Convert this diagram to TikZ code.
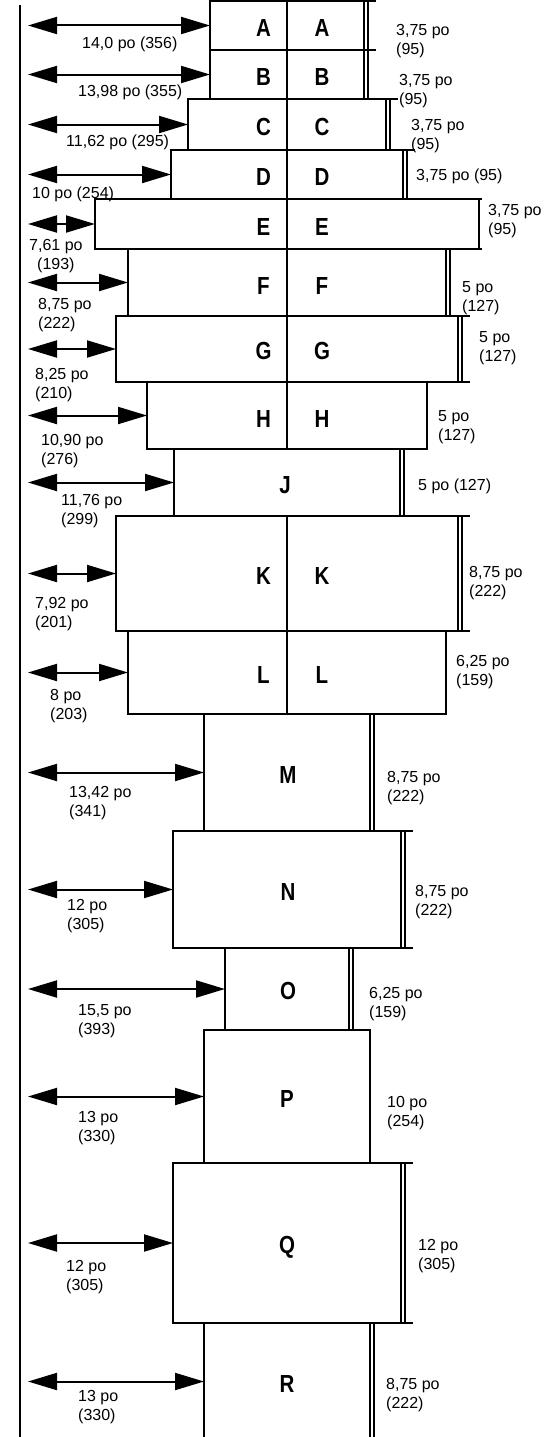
\documentclass[tikz,border=0pt]{standalone}
\usepackage{fontspec}
\setmainfont{Liberation Sans}
\newfontfamily\boxfont[FakeStretch=0.83]{Liberation Sans Bold}
\usetikzlibrary{arrows.meta}
\tikzset{
  BoxStyle/.style = { rectangle, draw, line width = 1.8pt,
                      inner sep = 0pt, outer sep = 0pt },
  SizeStyle/.style = { font = \fontsize{16}{18.5}\selectfont,
                       align = left, inner sep = 0pt, anchor = west },
  ArrowStyle/.style = { {Triangle[length=29pt,width=17pt]}-{Triangle[length=29pt,width=17pt]},
                        line width = 2pt } }
\newcommand{\SizeBar}[1]{%
  \draw[line width=1.2pt] ([xshift=4pt]#1.north east) -- ([xshift=4pt]#1.south east);
  \draw[line width=2.8pt] (#1.north east) -- ([xshift=12pt]#1.north east)
                          (#1.south east) -- ([xshift=12pt]#1.south east);}

\begin{document}
\begin{tikzpicture}[x=1pt,y=-1pt]
  \useasboundingbox (0,0) rectangle (556,1437);
  \tikzstyle{CellStyle}=[font = \boxfont\fontsize{24.7}{24.7}\selectfont,
                         inner sep = 0pt, text height = 17.7pt, text depth = 0pt]
  \draw[line width=1.4pt] (20,5) -- (20,1437);
  \coordinate (rail) at (28,0);

  \node[BoxStyle, minimum width=154pt, minimum height=49pt]  (A) at (287,25.5)  {};
  \node[BoxStyle, minimum width=154pt, minimum height=49pt]  (B) at (287,74.5)  {};
  \node[BoxStyle, minimum width=198pt, minimum height=51pt]  (C) at (287,124.5) {};
  \node[BoxStyle, minimum width=232pt, minimum height=49pt]  (D) at (287,174.5) {};
  \node[BoxStyle, minimum width=384pt, minimum height=50pt]  (E) at (287,224)   {};
  \node[BoxStyle, minimum width=318pt, minimum height=67pt]  (F) at (287,282.5) {};
  \node[BoxStyle, minimum width=342pt, minimum height=66pt]  (G) at (287,349)   {};
  \node[BoxStyle, minimum width=280pt, minimum height=67pt]  (H) at (287,415.5) {};
  \node[BoxStyle, minimum width=226pt, minimum height=67pt]  (J) at (287,482.5) {};
  \node[BoxStyle, minimum width=342pt, minimum height=115pt] (K) at (287,573.5) {};
  \node[BoxStyle, minimum width=318pt, minimum height=83pt]  (L) at (287,672.5) {};
  \node[BoxStyle, minimum width=166pt, minimum height=117pt] (M) at (287,772.5) {};
  \node[BoxStyle, minimum width=228pt, minimum height=117pt] (N) at (287,889.5) {};
  \node[BoxStyle, minimum width=124pt, minimum height=82pt]  (O) at (287,989)   {};
  \node[BoxStyle, minimum width=166pt, minimum height=133pt] (P) at (287,1096.5) {};
  \node[BoxStyle, minimum width=228pt, minimum height=160pt] (Q) at (287,1243)  {};
  \node[BoxStyle, minimum width=166pt, minimum height=117pt] (R) at (287,1381.5) {};

  \draw[line width=1.3pt] (A.north) -- (A.south) (B.north) -- (B.south)
    (C.north) -- (C.south) (D.north) -- (D.south) (E.north) -- (E.south)
    (F.north) -- (F.south) (G.north) -- (G.south) (H.north) -- (H.south)
    (K.north) -- (K.south) (L.north) -- (L.south);

  \node[CellStyle] at (263.5,27.5)  {A};  \node[CellStyle] at (322,27.5)  {A};
  \node[CellStyle] at (263.5,76.5)  {B};  \node[CellStyle] at (322,76.5)  {B};
  \node[CellStyle] at (263.5,126.5) {C};  \node[CellStyle] at (322,126.5) {C};
  \node[CellStyle] at (263.5,176.5) {D};  \node[CellStyle] at (322,176.5) {D};
  \node[CellStyle] at (263.5,227)   {E};  \node[CellStyle] at (322,227)   {E};
  \node[CellStyle] at (263.5,285.5) {F};  \node[CellStyle] at (322,285.5) {F};
  \node[CellStyle] at (263.5,351)   {G};  \node[CellStyle] at (322,351)   {G};
  \node[CellStyle] at (263.5,418.5) {H};  \node[CellStyle] at (322,418.5) {H};
  \node[CellStyle] at (285,484.5) {J};
  \node[CellStyle] at (263.5,576)   {K};  \node[CellStyle] at (322,576)   {K};
  \node[CellStyle] at (263.5,675)   {L};  \node[CellStyle] at (322,675)   {L};
  \node[CellStyle] at (288,775)   {M};
  \node[CellStyle] at (288,892)   {N};
  \node[CellStyle] at (288,991)   {O};
  \node[CellStyle] at (287,1099)  {P};
  \node[CellStyle] at (287,1245)  {Q};
  \node[CellStyle] at (287,1384)  {R};

  \SizeBar{A} \SizeBar{B} \SizeBar{C} \SizeBar{D} \SizeBar{F} \SizeBar{G}
  \SizeBar{J} \SizeBar{K} \SizeBar{M} \SizeBar{N} \SizeBar{O} \SizeBar{Q}
  \SizeBar{R}
  \draw[line width=2.6pt] (E.north east) -- ([xshift=3pt]E.north east)
                          (E.south east) -- ([xshift=3pt]E.south east);

  \foreach \b in {A,B,C,D,E,F,G,H,J,K,L,M,N,O,P,Q,R}
    \draw[ArrowStyle] (\b.west -| rail) -- (\b.west);

  \node[SizeStyle] (rA) at (396,41)   {3,75 po\\(95)};
  \node[SizeStyle] (rB) at (399,91)   {3,75 po\\(95)};
  \node[SizeStyle] (rC) at (411,136)  {3,75 po\\(95)};
  \node[SizeStyle] (rD) at (416,176)  {3,75 po (95)};
  \node[SizeStyle] (rE) at (488,221)  {3,75 po\\(95)};
  \node[SizeStyle] (rF) at (462,298)  {5 po\\(127)};
  \node[SizeStyle] (rG) at (479,348)  {5 po\\(127)};
  \node[SizeStyle] (rH) at (438,427)  {5 po\\(127)};
  \node[SizeStyle] (rJ) at (418,486)  {5 po (127)};
  \node[SizeStyle] (rK) at (469,583)  {8,75 po\\(222)};
  \node[SizeStyle] (rL) at (456,672)  {6,25 po\\(159)};
  \node[SizeStyle] (rM) at (387,788)  {8,75 po\\(222)};
  \node[SizeStyle] (rN) at (415,902)  {8,75 po\\(222)};
  \node[SizeStyle] (rO) at (369,1004) {6,25 po\\(159)};
  \node[SizeStyle] (rP) at (387,1113) {10 po\\(254)};
  \node[SizeStyle] (rQ) at (418,1256) {12 po\\(305)};
  \node[SizeStyle] (rR) at (386,1395) {8,75 po\\(222)};

  \node[SizeStyle] (lA) at (82,44)    {14,0 po (356)};
  \node[SizeStyle] (lB) at (78,92)    {13,98 po (355)};
  \node[SizeStyle] (lC) at (66,142)   {11,62 po (295)};
  \node[SizeStyle] (lD) at (32,194)   {10 po (254)};
  \node[SizeStyle, align=center] (lE) at (29,256) {7,61 po\\(193)};
  \node[SizeStyle] (lF) at (38,315)   {8,75 po\\(222)};
  \node[SizeStyle] (lG) at (35,385)   {8,25 po\\(210)};
  \node[SizeStyle] (lH) at (41,451)   {10,90 po\\(276)};
  \node[SizeStyle] (lJ) at (61,511)   {11,76 po\\(299)};
  \node[SizeStyle] (lK) at (35,614)   {7,92 po\\(201)};
  \node[SizeStyle] (lL) at (50,706)   {8 po\\(203)};
  \node[SizeStyle] (lM) at (69,803)   {13,42 po\\(341)};
  \node[SizeStyle] (lN) at (67,916)   {12 po\\(305)};
  \node[SizeStyle] (lO) at (78,1021)  {15,5 po\\(393)};
  \node[SizeStyle] (lP) at (78,1128)  {13 po\\(330)};
  \node[SizeStyle] (lQ) at (66,1277)  {12 po\\(305)};
  \node[SizeStyle] (lR) at (78,1407)  {13 po\\(330)};
\end{tikzpicture}
\end{document}
